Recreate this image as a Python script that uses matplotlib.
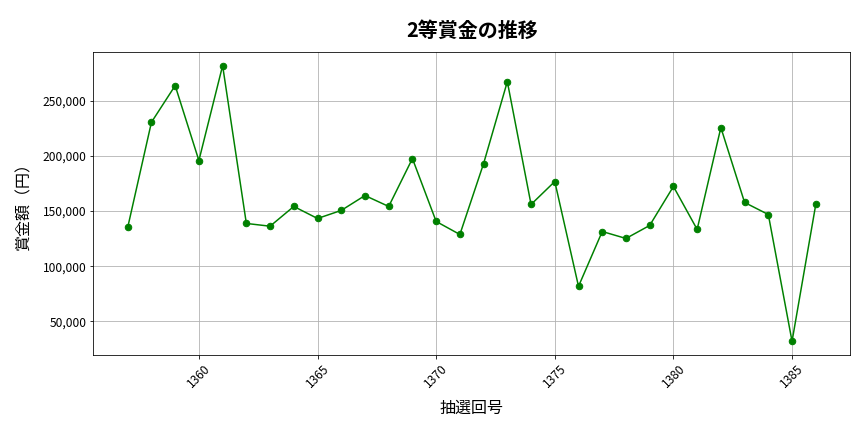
import matplotlib
matplotlib.use("Agg")
import matplotlib.pyplot as plt
from matplotlib.ticker import FuncFormatter

plt.rcParams['font.family'] = ['Noto Sans CJK JP', 'DejaVu Sans']

# 抽選回号と2等賞金
draws = list(range(1357, 1387))
prizes = [135100, 230400, 263600, 195700, 281700, 138700, 136200, 154100, 143200, 150500,
          164000, 154100, 197500, 140500, 128700, 193000, 267200, 155900, 176700, 81700,
          131400, 125100, 136900, 172200, 133300, 225600, 157700, 146800, 31900, 155900]

fig, ax = plt.subplots(figsize=(12, 6), dpi=72)
ax.plot(draws, prizes, marker='o', color='green', markersize=6.5, linewidth=1.5)

ax.set_title('2等賞金の推移', fontsize=20, fontweight='bold', pad=15)
ax.set_xlabel('抽選回号', fontsize=16, labelpad=10)
ax.set_ylabel('賞金額（円）', fontsize=16, labelpad=10)
ax.yaxis.set_major_formatter(FuncFormatter(lambda v, p: f'{int(v):,}'))
ax.tick_params(axis='both', labelsize=12)
plt.setp(ax.get_xticklabels(), rotation=45)
ax.grid(True, color='#b0b0b0', linewidth=0.8)

fig.subplots_adjust(left=0.108, right=0.984, top=0.88, bottom=0.178)
fig.savefig('out.png')
